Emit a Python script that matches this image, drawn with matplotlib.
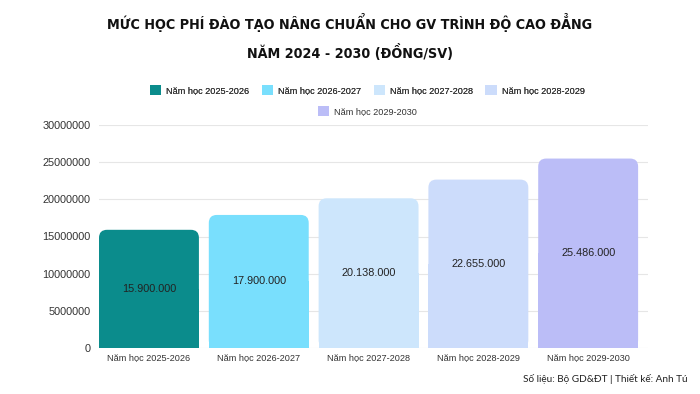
import matplotlib
matplotlib.use('Agg')
import matplotlib.pyplot as plt
from matplotlib.patches import FancyBboxPatch, Patch

years = ['Năm học 2025-2026', 'Năm học 2026-2027', 'Năm học 2027-2028',
         'Năm học 2028-2029', 'Năm học 2029-2030']
fees = [15900000, 17900000, 20138000, 22655000, 25486000]
fee_labels = ['15.900.000', '17.900.000', '20.138.000', '22.655.000', '25.486.000']
colors = ['#0b8c8c', '#79dffd', '#cde6fc', '#ccdcfb', '#bbbdf7']
yticks = [0, 5000000, 10000000, 15000000, 20000000, 25000000, 30000000]

plt.rcParams['font.family'] = ['Liberation Sans', 'DejaVu Sans']

fig = plt.figure(figsize=(7, 3.94), dpi=100)
ax = fig.add_axes([99/700, 1 - 348/394, 549/700, 223/394])

w = 0.91
x = list(range(len(years)))
ax.set_xlim(-0.455, 4.545)
ax.set_ylim(0, 30000000)

# px per data unit, for round corners that look round
px_x = 549 / (4.545 + 0.455)
px_y = 223 / 30000000
aspect = px_x / px_y
r = 8 / px_x

for i, v in enumerate(fees):
    # square bottom part
    ax.bar(i, v / 2, width=w, color=colors[i], zorder=2, linewidth=0)
    box = FancyBboxPatch((i - w/2 + r, r * aspect), w - 2*r, v - 2*r*aspect,
                         boxstyle=f'round,pad={r},rounding_size={r}',
                         mutation_aspect=aspect,
                         facecolor=colors[i], edgecolor='none', zorder=2)
    ax.add_patch(box)
    ax.text(i, v / 2, fee_labels[i], ha='center', va='center',
            fontsize=7.8, color='#222222', zorder=3)

ax.set_xticks(x)
ax.set_xticklabels(years, fontsize=6.6, color='#333333')
ax.set_yticks(yticks)
ax.set_yticklabels([str(t) for t in yticks], fontsize=7.8, color='#333333')
ax.tick_params(length=0, pad=6)
ax.tick_params(axis='x', pad=4)
ax.grid(axis='y', color='#e6e6e6', lw=0.8, zorder=0)
for s in ax.spines.values():
    s.set_visible(False)

handles = [Patch(facecolor=c, edgecolor='none') for c in colors]
leg_kw = dict(loc='center', frameon=False, fontsize=6.6, handlelength=1.25,
              handleheight=1.25, handletextpad=0.5, labelcolor='#333333')
leg1 = fig.legend(handles[:4], years[:4], ncol=4,
                  bbox_to_anchor=(367/700, 1 - 90/394), columnspacing=1.4, **leg_kw)
fig.legend(handles[4:], years[4:], ncol=1,
           bbox_to_anchor=(367/700, 1 - 111/394), **leg_kw)
fig.add_artist(leg1)

tfont = ['DejaVu Sans']
for txt, yy in [('MỨC HỌC PHÍ ĐÀO TẠO NÂNG CHUẨN CHO GV TRÌNH ĐỘ CAO ĐẲNG', 22),
                ('NĂM 2024 - 2030 (ĐỒNG/SV)', 52)]:
    fig.text(0.5, 1 - yy/394, txt, ha='center', va='center', fontsize=10.3,
             fontweight='bold', fontstretch='condensed', family=tfont,
             color='#111111')

fig.text(688/700, 1 - 379/394, 'Số liệu: Bộ GD&ĐT | Thiết kế: Anh Tú',
         ha='right', va='center', fontsize=7.2, color='#222222',
         family=['Lato', 'DejaVu Sans'])

fig.savefig('out.png', dpi=100, facecolor='white')
